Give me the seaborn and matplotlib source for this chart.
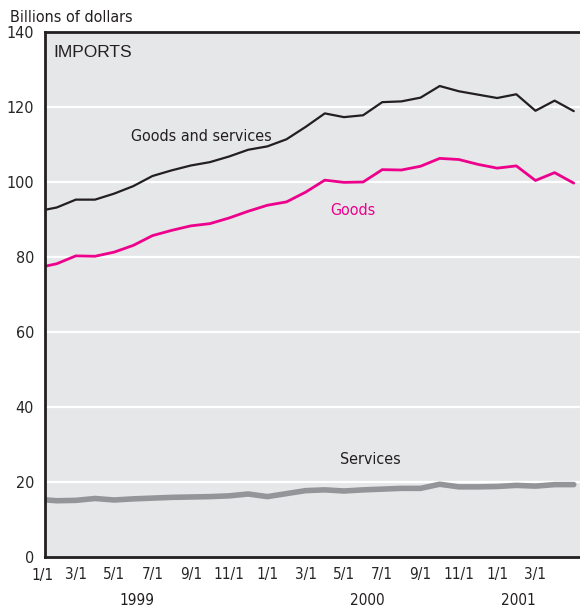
import matplotlib
matplotlib.use("Agg")
import matplotlib.pyplot as plt
import numpy as np
import pandas as pd
import seaborn as sns

# Monthly imports, billions of dollars, Jan 1999 - May 2001
months = pd.date_range("1999-01-01", "2001-05-01", freq="MS")
goods_services = [92.2, 93.2, 95.3, 95.3, 96.9, 98.9, 101.6, 103.1, 104.4, 105.3,
                  106.8, 108.6, 109.5, 111.4, 114.7, 118.3, 117.3, 117.8, 121.3,
                  121.5, 122.5, 125.6, 124.2, 123.3, 122.4, 123.4, 119.0, 121.7, 118.9]
goods = [77.1, 78.2, 80.3, 80.2, 81.3, 83.1, 85.7, 87.1, 88.3, 88.9, 90.4, 92.2,
         93.8, 94.7, 97.3, 100.5, 99.9, 100.0, 103.3, 103.2, 104.2, 106.3, 106.0,
         104.7, 103.7, 104.3, 100.4, 102.5, 99.7]
services = [15.4, 15.0, 15.1, 15.6, 15.2, 15.5, 15.7, 15.9, 16.0, 16.1, 16.3, 16.8,
            16.1, 16.9, 17.7, 17.9, 17.6, 17.9, 18.1, 18.3, 18.3, 19.4, 18.7, 18.7,
            18.8, 19.1, 18.9, 19.3, 19.3]

tick_months = [2, 4, 6, 8, 10, 14, 16, 18, 20, 22, 26]
tick_labels = ["3/1", "5/1", "7/1", "9/1", "11/1", "3/1", "5/1", "7/1", "9/1", "11/1", "3/1"]
year_months = [12, 24]
years = ["1999", "2000", "2001"]
year_pos = [5.2, 17.2, 25.1]

BG = "#e6e7e8"
BLACK = "#231f20"
PINK = "#ec008c"
GRAY = "#939598"
FS = 11.5

df = pd.DataFrame({
    "month": np.arange(len(months)),
    "Goods and services": goods_services,
    "Goods": goods,
    "Services": services,
})

sns.set_style("white")
plt.rcParams["font.family"] = ["DejaVu Sans"]
plt.rcParams["font.stretch"] = "condensed"

fig = plt.figure(figsize=(5.8, 6.11), dpi=100)
ax = fig.add_axes([0.0776, 0.0884, 0.9265, 0.8592])
ax.set_facecolor(BG)

sns.lineplot(data=df, x="month", y="Services", color=GRAY, linewidth=4.0, ax=ax)
sns.lineplot(data=df, x="month", y="Goods", color=PINK, linewidth=2.0, ax=ax)
sns.lineplot(data=df, x="month", y="Goods and services", color=BLACK, linewidth=1.6, ax=ax)

ax.set_xlim(0.39, 28.45)
ax.set_ylim(0, 140)
ax.set_xlabel("")
ax.set_ylabel("")

for v in range(20, 140, 20):
    ax.axhline(v, color="white", linewidth=1.6, zorder=0.5)

ax.set_yticks(range(0, 141, 20))
ax.tick_params(axis="y", direction="in", length=13, width=2, color=BLACK,
               labelsize=FS, pad=8)
ax.set_xticks(year_months, ["1/1", "1/1"])
ax.set_xticks(tick_months, tick_labels, minor=True)
ax.tick_params(axis="x", which="major", direction="in", length=13, width=2,
               color=BLACK, labelsize=11, pad=7)
ax.tick_params(axis="x", which="minor", direction="in", length=7, width=2,
               color=BLACK, labelsize=11, pad=7)

for side in ["left", "bottom", "top", "right"]:
    ax.spines[side].set_color(BLACK)
    ax.spines[side].set_linewidth(2)

# first "1/1" sits just left of the axis start
ax.text(0.25, -0.036, "1/1", transform=ax.get_xaxis_transform(), ha="center",
        va="center", fontsize=11, color=BLACK)
for y, pos in zip(years, year_pos):
    ax.text(pos, -0.082, y, transform=ax.get_xaxis_transform(), ha="center",
            va="center", fontsize=11, color=BLACK)

ax.text(0.015, 0.975, "IMPORTS", transform=ax.transAxes, ha="left", va="top",
        fontsize=12.5, family="Liberation Sans", stretch="normal", color=BLACK)
ax.text(4.9, 112.2, "Goods and services", fontsize=FS, color=BLACK, va="center")
ax.text(15.3, 92.4, "Goods", fontsize=FS, color=PINK, va="center")
ax.text(15.8, 26.1, "Services", fontsize=FS, color=BLACK, va="center")

fig.text(10 / 580, 1 - 17 / 611, "Billions of dollars", ha="left", va="center",
         fontsize=FS, color=BLACK)

fig.savefig("out.png", dpi=100)
